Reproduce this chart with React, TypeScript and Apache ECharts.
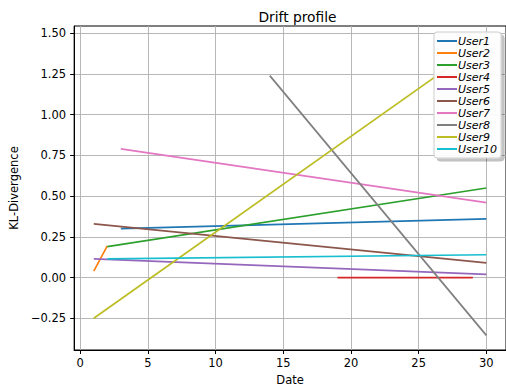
import React, { useEffect, useRef } from "react";
import * as echarts from "echarts";

const users = ["User1", "User2", "User3", "User4", "User5", "User6", "User7", "User8", "User9", "User10"];
const colors = ["#1f77b4", "#ff7f0e", "#2ca02c", "#d62728", "#9467bd", "#8c564b", "#e377c2", "#7f7f7f", "#bcbd22", "#17becf"];
const startDays = [3, 1, 2, 19, 1, 1, 3, 14, 1, 2];
const endDays = [30, 2, 30, 29, 30, 30, 30, 30, 30, 30];
const startValues = [0.3, 0.04, 0.19, 0.0, 0.115, 0.33, 0.79, 1.24, -0.25, 0.115];
const endValues = [0.36, 0.195, 0.55, 0.0, 0.02, 0.09, 0.46, -0.355, 1.455, 0.14];
const xTicks = [0, 5, 10, 15, 20, 25, 30];
const yTicks = [-0.25, 0, 0.25, 0.5, 0.75, 1.0, 1.25, 1.5];

const FONT = "DejaVu Sans";

export default function App() {
  const ref = useRef<HTMLDivElement>(null);
  useEffect(() => {
    document.body.style.margin = "0";
    const chart = echarts.init(ref.current!, undefined, { renderer: "svg" });
    const series = users.map((u, i) => ({
      name: u,
      type: "line",
      data: [
        [startDays[i], startValues[i]],
        [endDays[i], endValues[i]],
      ],
      showSymbol: false,
      symbol: "none",
      lineStyle: { color: colors[i], width: 1.7 },
      itemStyle: { color: colors[i] },
    }));
    const axisCommon = {
      axisLine: { show: true, onZero: false, lineStyle: { color: "#000", width: 1 } },
      axisTick: { show: true, length: 4, lineStyle: { color: "#000", width: 1 } },
      splitLine: { show: true, lineStyle: { color: "#b0b0b0", width: 0.9 } },
      nameTextStyle: { fontFamily: FONT, fontSize: 11.5, color: "#000" },
    };
    chart.setOption({
      animation: false,
      title: {
        text: "Drift profile",
        left: 292.5,
        top: 5,
        textAlign: "center",
        textStyle: { fontFamily: FONT, fontSize: 13.8, fontWeight: "normal", color: "#000" },
      },
      grid: {
        left: 74,
        top: 26,
        width: 437,
        height: 326,
        show: true,
        borderColor: "#000",
        borderWidth: 1,
        backgroundColor: "transparent",
      },
      xAxis: {
        type: "value",
        min: -0.45,
        max: 31.45,
        name: "Date",
        nameLocation: "middle",
        nameGap: 24,
        ...axisCommon,
        axisTick: { ...axisCommon.axisTick, customValues: xTicks },
        axisLabel: {
          customValues: xTicks,
          margin: 7,
          fontFamily: FONT,
          fontSize: 11.5,
          color: "#000",
        },
      },
      yAxis: {
        type: "value",
        min: -0.445,
        max: 1.545,
        name: "KL-Divergence",
        nameLocation: "middle",
        nameGap: 50,
        ...axisCommon,
        axisTick: { ...axisCommon.axisTick, customValues: yTicks },
        axisLabel: {
          customValues: yTicks,
          margin: 8,
          fontFamily: FONT,
          fontSize: 11.5,
          color: "#000",
          formatter: (v: number) => (v < 0 ? "\u2212" + Math.abs(v).toFixed(2) : v.toFixed(2)),
        },
      },
      legend: {
        orient: "vertical",
        left: 434,
        top: 32,
        padding: [3, 4, 3, 3],
        itemGap: 0,
        itemWidth: 20,
        itemHeight: 2,
        icon: "rect",
        backgroundColor: "rgba(255,255,255,0.92)",
        borderColor: "#cccccc",
        borderWidth: 1,
        borderRadius: 3,
        shadowColor: "rgba(0,0,0,0.25)",
        shadowBlur: 1,
        shadowOffsetX: 3,
        shadowOffsetY: 3,
        textStyle: {
          fontFamily: FONT,
          fontSize: 11,
          fontStyle: "italic",
          color: "#000",
          lineHeight: 12,
          padding: [0, 0, 0, -4],
        },
        data: users,
      },
      series,
    });
    return () => chart.dispose();
  }, []);
  return <div ref={ref} style={{ width: 506, height: 391 }} />;
}
